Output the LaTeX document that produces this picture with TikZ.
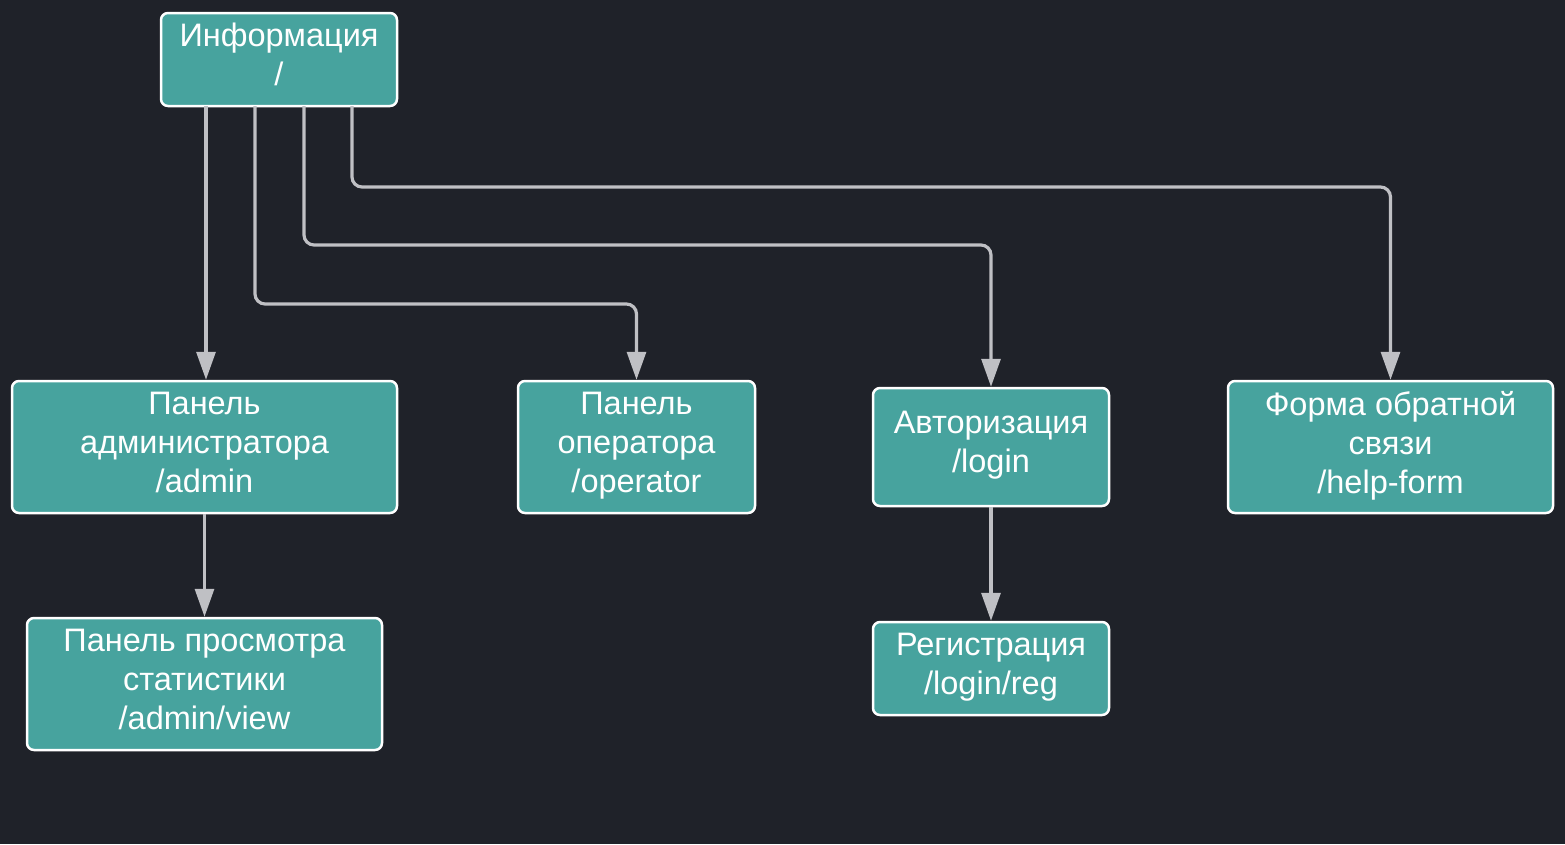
\documentclass[tikz,border=0pt]{standalone}
\usepackage{fontspec}
\setmainfont{Liberation Sans}
\usetikzlibrary{arrows.meta}
\definecolor{bg}{HTML}{1F2229}
\definecolor{boxfill}{HTML}{47A39E}
\definecolor{edgec}{HTML}{BFC0C4}
\tikzset{
  pagebox/.style={draw=white, fill=boxfill, line width=2.5pt, rounded corners=7pt,
    text=white, align=center, inner sep=0pt,
    font=\fontsize{32.5}{39}\selectfont,
    execute at begin node={\rule{0pt}{29pt}},
    execute at end node={\rule[-10pt]{0pt}{10pt}}},
  conn/.style={draw=edgec, line width=3.2pt, rounded corners=10pt,
    -{Triangle[length=28pt,width=19pt]}}
}
\begin{document}
\begin{tikzpicture}[x=1pt,y=-1pt]
\fill[bg] (0,0) rectangle (1565,844);
\useasboundingbox (0,0) rectangle (1565,844);
\node[pagebox, minimum width=236pt, minimum height=93pt] (info) at (279,59.5) {Информация\\/};
\node[pagebox, minimum width=385pt, minimum height=132pt] (admin) at (204.5,447) {Панель\\администратора\\/admin};
\node[pagebox, minimum width=237pt, minimum height=132pt] (oper) at (636.5,447) {Панель\\оператора\\/operator};
\node[pagebox, minimum width=236pt, minimum height=118pt] (login) at (991,447) {Авторизация\\/login};
\node[pagebox, minimum width=325pt, minimum height=132pt] (help) at (1390.5,447) {Форма обратной\\связи\\/help-form};
\node[pagebox, minimum width=355pt, minimum height=132pt] (stat) at (204.5,684) {Панель просмотра\\статистики\\/admin/view};
\node[pagebox, minimum width=236pt, minimum height=93pt] (reg) at (991,668.5) {Регистрация\\/login/reg};
\coordinate (s1) at (206,106);
\coordinate (s2) at (255,106);
\coordinate (s3) at (304,106);
\coordinate (s4) at (352,106);
\draw[conn] (s1) -- (s1 |- admin.north);
\draw[conn] (s2) |- (636.5,304) -- (oper.north);
\draw[conn] (s3) |- (991,245) -- (login.north);
\draw[conn] (s4) |- (1390.5,187) -- (help.north);
\draw[conn] (admin.south) -- (stat.north);
\draw[conn] (login.south) -- (reg.north);
\end{tikzpicture}
\end{document}
